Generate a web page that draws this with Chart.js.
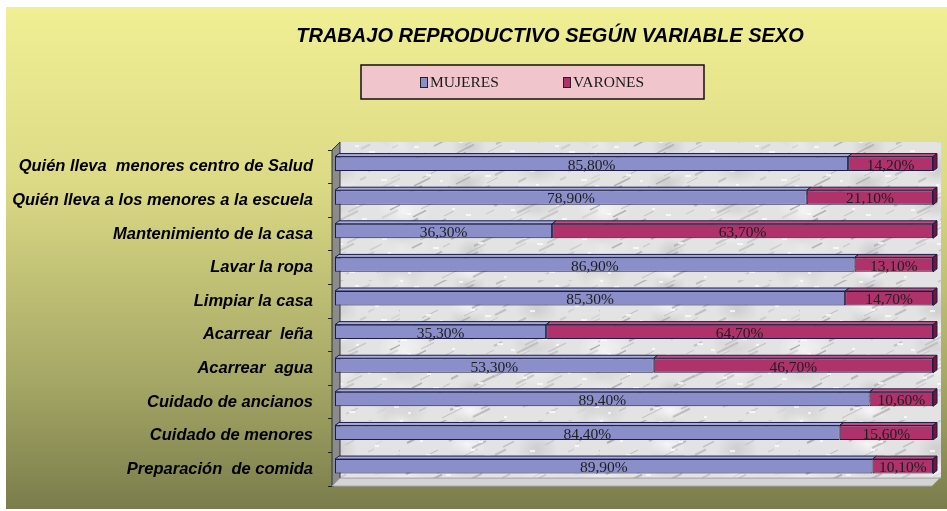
<!DOCTYPE html>
<html>
<head>
<meta charset="utf-8">
<script src="https://cdn.jsdelivr.net/npm/chart.js@4/dist/chart.umd.min.js"></script>
<style>
html,body{margin:0;padding:0;background:#fff;}
#wrap{width:947px;height:511px;position:relative;}
</style>
</head>
<body>
<div id="wrap"><canvas id="c" width="947" height="511"></canvas></div>
<script>
const categories = [
  "Quién lleva  menores centro de Salud",
  "Quién lleva a los menores a la escuela",
  "Mantenimiento de la casa",
  "Lavar la ropa",
  "Limpiar la casa",
  "Acarrear  leña",
  "Acarrear  agua",
  "Cuidado de ancianos",
  "Cuidado de menores",
  "Preparación  de comida"
];
const mujeres = [85.8, 78.9, 36.3, 86.9, 85.3, 35.3, 53.3, 89.4, 84.4, 89.9];
const varones = [14.2, 21.1, 63.7, 13.1, 14.7, 64.7, 46.7, 10.6, 15.6, 10.1];
const seriesNames = ["MUJERES", "VARONES"];
const titleText = "TRABAJO REPRODUCTIVO SEGÚN VARIABLE SEXO";

const COLORS = [
  {front:'#8a8fca', top:'#a6aae0', side:'#5c609a'},
  {front:'#b0326a', top:'#c4507f', side:'#72163f'}
];
const EDGE = '#1c1c44';
const D = 8;   // wall depth
const d = 4;   // bar depth
const SHIFT_X = 1, SHIFT_Y = -3;

function marblePattern(ctx){
  const PW = 200, PH = 140;
  const p = document.createElement('canvas');
  p.width = PW; p.height = PH;
  const g = p.getContext('2d');
  g.fillStyle = '#e3e3e3';
  g.fillRect(0,0,PW,PH);
  const offs = [[0,0],[PW,0],[-PW,0],[0,PH],[0,-PH],[PW,PH],[-PW,-PH],[PW,-PH],[-PW,PH]];
  for(let i=0;i<14;i++){
    const bx = (i*67)%PW, by = (i*41)%PH, r = 14 + (i*5)%16;
    const light = i%2===0;
    offs.forEach(([ox,oy])=>{
      const x = bx+ox, y = by+oy;
      const rg = g.createRadialGradient(x,y,0,x,y,r);
      rg.addColorStop(0, light ? 'rgba(250,250,250,0.8)' : 'rgba(175,175,175,0.45)');
      rg.addColorStop(1, light ? 'rgba(250,250,250,0)' : 'rgba(175,175,175,0)');
      g.fillStyle = rg;
      g.beginPath(); g.arc(x,y,r,0,Math.PI*2); g.fill();
    });
  }
  for(let i=0;i<90;i++){
    const x = (i*37)%PW, y = (i*53)%PH;
    const len = 6 + (i*7)%16;
    const shade = 130 + (i*13)%70;
    g.strokeStyle = 'rgba('+shade+','+shade+','+shade+',0.55)';
    g.lineWidth = 0.8 + (i%3)*0.6;
    g.beginPath();
    g.moveTo(x,y);
    g.lineTo(x+len, y - len*0.5);
    g.stroke();
  }
  for(let i=0;i<50;i++){
    const x = (i*71)%PW, y = (i*29)%PH;
    g.fillStyle = 'rgba(255,255,255,0.7)';
    g.fillRect(x,y,3+(i%4),2);
  }
  return ctx.createPattern(p,'repeat');
}

const decor = {
  id:'decor',
  beforeDraw(chart){
    const ctx = chart.ctx;
    const W = chart.width, H = chart.height;
    ctx.save();
    ctx.fillStyle = '#ffffff';
    ctx.fillRect(0,0,W,H);
    const gr = ctx.createLinearGradient(0,7,0,509);
    gr.addColorStop(0,'#f1ef94');
    gr.addColorStop(0.35,'#dcda85');
    gr.addColorStop(0.75,'#a4a665');
    gr.addColorStop(1,'#7a7d4b');
    ctx.fillStyle = gr;
    ctx.fillRect(6,7,W-6,502);

    ctx.fillStyle = '#000';
    ctx.font = 'bold italic 20px "Liberation Sans", Arial, sans-serif';
    ctx.textAlign = 'center';
    ctx.textBaseline = 'middle';
    ctx.fillText(titleText, 550, 36);

    ctx.fillStyle = '#f1c5cc';
    ctx.fillRect(361,65,343,34);
    ctx.strokeStyle = '#111';
    ctx.lineWidth = 1.5;
    ctx.strokeRect(361,65,343,34);
    ctx.font = '15.5px "Liberation Serif", "Times New Roman", serif';
    ctx.textAlign = 'left';
    const lx = [420, 563];
    seriesNames.forEach((n,i)=>{
      ctx.fillStyle = COLORS[i].front;
      ctx.fillRect(lx[i],77,7,10);
      ctx.strokeStyle = '#222';
      ctx.lineWidth = 1;
      ctx.strokeRect(lx[i]+0.5,77.5,7,10);
      ctx.fillStyle = '#1a1a1a';
      ctx.fillText(n, lx[i]+10, 83);
    });
    ctx.restore();
  },
  beforeDatasetsDraw(chart){
    const ctx = chart.ctx;
    const a = chart.chartArea;
    const L = a.left - 2;
    ctx.save();
    ctx.fillStyle = marblePattern(ctx);
    ctx.fillRect(L+D, a.top-D, a.right-L+1, a.bottom-a.top);
    ctx.fillStyle = '#8b8b8b';
    ctx.beginPath();
    ctx.moveTo(L, a.top);
    ctx.lineTo(L+D, a.top-D);
    ctx.lineTo(L+D, a.bottom-D);
    ctx.lineTo(L, a.bottom);
    ctx.closePath();
    ctx.fill();
    ctx.strokeStyle = '#333';
    ctx.lineWidth = 1;
    ctx.stroke();
    ctx.fillStyle = '#d4d4d4';
    ctx.beginPath();
    ctx.moveTo(L, a.bottom);
    ctx.lineTo(L+D, a.bottom-D);
    ctx.lineTo(a.right+D, a.bottom-D);
    ctx.lineTo(a.right, a.bottom);
    ctx.closePath();
    ctx.fill();
    ctx.strokeStyle = '#a0a0a0';
    ctx.stroke();
    ctx.restore();
    ctx.save();
    ctx.translate(SHIFT_X, SHIFT_Y);
  },
  afterDatasetsDraw(chart){
    const ctx = chart.ctx;
    const nds = chart.data.datasets.length;
    chart.data.datasets.forEach((ds,di)=>{
      const meta = chart.getDatasetMeta(di);
      meta.data.forEach((bar,i)=>{
        const p = bar.getProps(['x','y','base','height'], true);
        const x0 = Math.min(p.base,p.x), x1 = Math.max(p.base,p.x);
        const t = p.y - p.height/2, b = p.y + p.height/2;
        ctx.lineWidth = 1;
        ctx.strokeStyle = EDGE;
        ctx.fillStyle = COLORS[di].top;
        ctx.beginPath();
        ctx.moveTo(x0,t); ctx.lineTo(x0+d,t-d+1); ctx.lineTo(x1+d,t-d+1); ctx.lineTo(x1,t);
        ctx.closePath(); ctx.fill(); ctx.stroke();
        if(di === nds-1){
          ctx.fillStyle = COLORS[di].side;
          ctx.beginPath();
          ctx.moveTo(x1,t); ctx.lineTo(x1+d,t-d+1); ctx.lineTo(x1+d,b-d+1); ctx.lineTo(x1,b);
          ctx.closePath(); ctx.fill(); ctx.stroke();
        }
        ctx.fillStyle = '#1e1e1e';
        ctx.font = '15.5px "Liberation Serif", "Times New Roman", serif';
        ctx.textAlign = 'center';
        ctx.textBaseline = 'middle';
        const v = ds.data[i];
        ctx.fillText(v.toFixed(2).replace('.',',') + '%', (x0+x1)/2, p.y + 2);
      });
    });
    ctx.restore();
  }
};

new Chart(document.getElementById('c'), {
  type:'bar',
  data:{
    labels: categories,
    datasets:[
      {label:seriesNames[0], data:mujeres, backgroundColor:COLORS[0].front, borderColor:EDGE, borderWidth:1, borderSkipped:false},
      {label:seriesNames[1], data:varones, backgroundColor:COLORS[1].front, borderColor:EDGE, borderWidth:1, borderSkipped:false}
    ]
  },
  options:{
    indexAxis:'y',
    responsive:false,
    animation:false,
    devicePixelRatio:1,
    layout:{padding:{left:6, top:150, right:15, bottom:24}},
    datasets:{bar:{barPercentage:0.43, categoryPercentage:1}},
    plugins:{legend:{display:false}, title:{display:false}, tooltip:{enabled:false}},
    scales:{
      x:{stacked:true, min:0, max:100, display:false},
      y:{
        stacked:true,
        afterFit(scale){ scale.width = 328; },
        border:{display:false},
        grid:{display:true, drawOnChartArea:false, drawTicks:true, tickLength:6, color:'#222', offset:true},
        ticks:{
          color:'#000',
          padding:15,
          font:{family:'"Liberation Sans", Arial, sans-serif', size:16.5, style:'italic', weight:'bold'}
        }
      }
    }
  },
  plugins:[decor]
});
</script>
</body>
</html>
